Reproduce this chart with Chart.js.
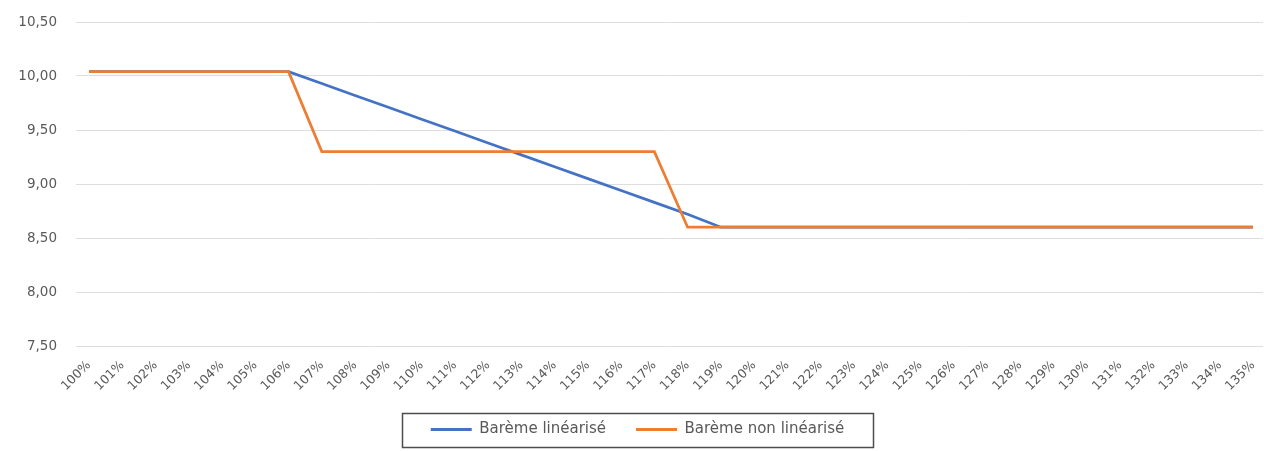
<!DOCTYPE html>
<html>
<head>
<meta charset="utf-8">
<title>Barème</title>
<script src="https://cdn.jsdelivr.net/npm/chart.js@4.4.1/dist/chart.umd.min.js"></script>
<style>
  html, body { margin: 0; padding: 0; background: #ffffff; }
  #wrap { width: 1264px; height: 451px; }
</style>
</head>
<body>
<div id="wrap"><canvas id="chart" width="1264" height="451"></canvas></div>
<script>
// Categories (taux) along the horizontal axis
const categories = [
  '100%', '101%', '102%', '103%', '104%', '105%', '106%', '107%', '108%', '109%',
  '110%', '111%', '112%', '113%', '114%', '115%', '116%', '117%', '118%', '119%',
  '120%', '121%', '122%', '123%', '124%', '125%', '126%', '127%', '128%', '129%',
  '130%', '131%', '132%', '133%', '134%', '135%'
];

// Barème linéarisé
const baremeLinearise = [
  10.04, 10.04, 10.04, 10.04, 10.04, 10.04, 10.04, 9.93, 9.82, 9.71,
  9.60, 9.49, 9.38, 9.27, 9.16, 9.05, 8.94, 8.83, 8.72, 8.60,
  8.60, 8.60, 8.60, 8.60, 8.60, 8.60, 8.60, 8.60, 8.60, 8.60,
  8.60, 8.60, 8.60, 8.60, 8.60, 8.60
];

// Barème non linéarisé
const baremeNonLinearise = [
  10.04, 10.04, 10.04, 10.04, 10.04, 10.04, 10.04, 9.30, 9.30, 9.30,
  9.30, 9.30, 9.30, 9.30, 9.30, 9.30, 9.30, 9.30, 8.60, 8.60,
  8.60, 8.60, 8.60, 8.60, 8.60, 8.60, 8.60, 8.60, 8.60, 8.60,
  8.60, 8.60, 8.60, 8.60, 8.60, 8.60
];

// Vertical axis range and step
const yMin = 7.5;
const yMax = 10.5;
const yStep = 0.5;

const seriesNames = ['Barème linéarisé', 'Barème non linéarisé'];
const BLUE = '#4472C4';
const ORANGE = '#ED7D31';
const TEXT = '#595959';
const FONT = "'DejaVu Sans', 'Liberation Sans', sans-serif";

// Thin frame drawn around the legend entries
const legendFrame = {
  id: 'legendFrame',
  afterDraw(chart) {
    const lg = chart.legend;
    if (!lg || !lg.legendHitBoxes || !lg.legendHitBoxes.length) return;
    const boxes = lg.legendHitBoxes;
    const left = Math.min(...boxes.map(b => b.left));
    const right = Math.max(...boxes.map(b => b.left + b.width));
    const cy = boxes[0].top + boxes[0].height / 2;
    const ctx = chart.ctx;
    ctx.save();
    ctx.strokeStyle = '#4d4d4d';
    ctx.lineWidth = 1.5;
    ctx.strokeRect(Math.round(left - 29) + 0.5, Math.round(cy - 17) + 0.5, Math.round(right - left + 57), 34);
    ctx.restore();
  }
};

// Scales keep no extra label padding; the outer layout padding sets the plot box
function noScalePadding(scale) {
  scale.paddingTop = 0;
  scale.paddingBottom = 0;
  scale.paddingLeft = 0;
  scale.paddingRight = 0;
}

new Chart(document.getElementById('chart'), {
  type: 'line',
  data: {
    labels: categories,
    datasets: [
      {
        label: seriesNames[0],
        data: baremeLinearise,
        borderColor: BLUE,
        backgroundColor: BLUE,
        borderWidth: 2.75,
        pointRadius: 0,
        tension: 0,
        order: 1
      },
      {
        label: seriesNames[1],
        data: baremeNonLinearise,
        borderColor: ORANGE,
        backgroundColor: ORANGE,
        borderWidth: 2.75,
        pointRadius: 0,
        tension: 0,
        order: 0
      }
    ]
  },
  options: {
    responsive: false,
    animation: false,
    events: [],
    layout: { padding: { top: 22, left: 12, right: 1, bottom: 4 } },
    scales: {
      x: {
        offset: false,
        grid: { display: false },
        border: { display: false },
        ticks: {
          autoSkip: false,
          minRotation: 45,
          maxRotation: 45,
          padding: 4,
          color: TEXT,
          font: { family: FONT, size: 12.5 }
        },
        // leave a small margin before the first and after the last category
        afterBuildTicks(scale) {
          scale._startValue = -0.39;
          scale._valueRange = categories.length - 1 + 0.39 + 0.30;
        },
        afterFit(scale) { scale.height = 46; noScalePadding(scale); }
      },
      y: {
        min: yMin,
        max: yMax,
        grid: { color: '#dedede', lineWidth: 1, drawTicks: false },
        border: { display: false },
        ticks: {
          stepSize: yStep,
          padding: 19,
          color: TEXT,
          font: { family: FONT, size: 13.5 },
          callback: v => Number(v).toFixed(2).replace('.', ',')
        },
        afterFit(scale) { scale.width = 64; noScalePadding(scale); }
      }
    },
    plugins: {
      legend: {
        position: 'bottom',
        labels: {
          boxWidth: 41,
          boxHeight: 3,
          padding: 30,
          color: TEXT,
          font: { family: FONT, size: 15 },
          sort: (a, b) => a.datasetIndex - b.datasetIndex,
          generateLabels(chart) {
            const items = Chart.defaults.plugins.legend.labels.generateLabels(chart);
            items.forEach(it => { it.lineWidth = 0; it.strokeStyle = 'rgba(0,0,0,0)'; });
            return items;
          }
        }
      },
      tooltip: { enabled: false },
      title: { display: false }
    }
  },
  plugins: [legendFrame]
});
</script>
</body>
</html>
